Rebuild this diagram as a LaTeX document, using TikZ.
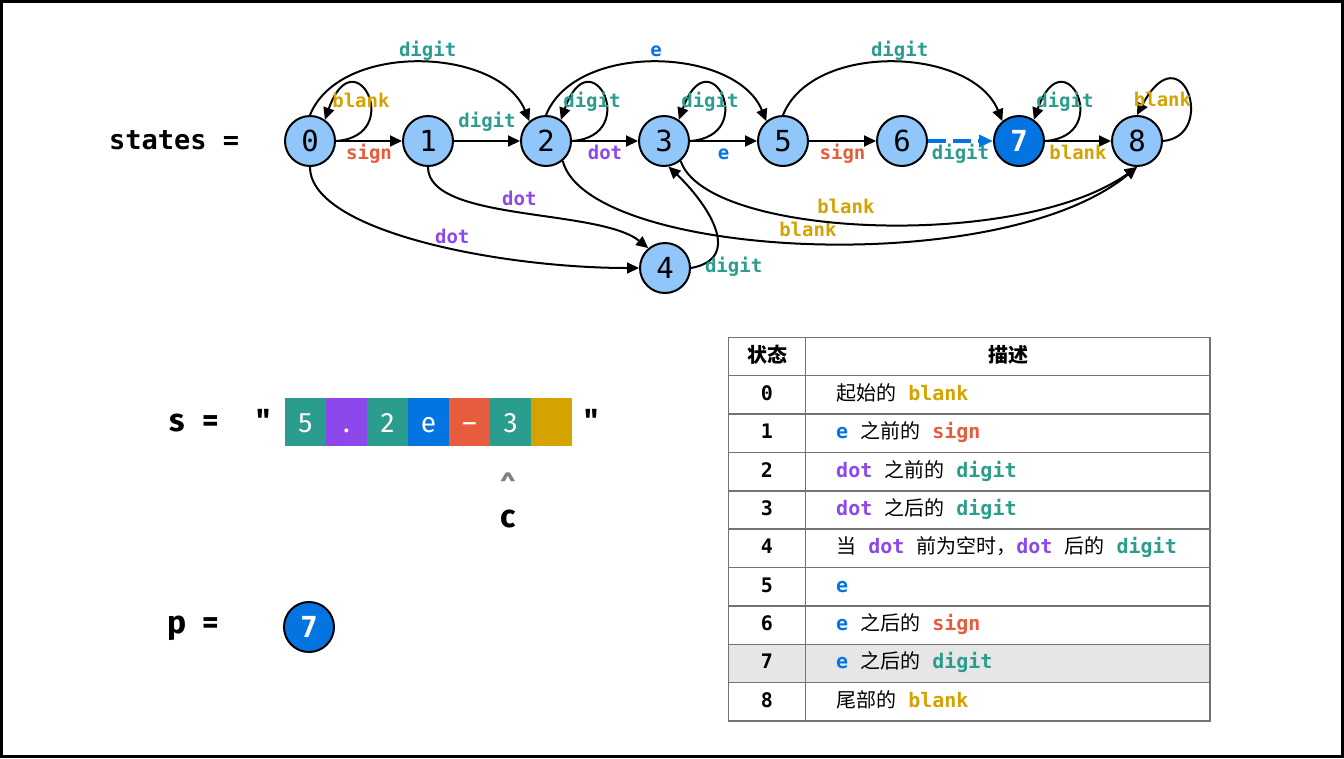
\documentclass[tikz,border=0pt]{standalone}
\usepackage{fontspec}
\setmainfont{Fira Sans}
\setmonofont{DejaVu Sans Mono}
\newfontfamily\cjk{Noto Sans CJK SC}
\usetikzlibrary{arrows.meta}

\definecolor{nodeblue}{RGB}{144,198,250}
\definecolor{darkblue}{RGB}{4,116,226}
\definecolor{cteal}{RGB}{42,157,143}
\definecolor{cpurple}{RGB}{140,72,235}
\definecolor{corange}{RGB}{230,92,60}
\definecolor{cyellow}{RGB}{212,163,0}
\definecolor{rowgray}{RGB}{230,230,230}
\definecolor{linegray}{RGB}{115,115,115}

\newcommand\zh[1]{{\cjk\mdseries #1}}
\newcommand\kwDigit{\textcolor{cteal}{digit}}
\newcommand\kwDot{\textcolor{cpurple}{dot}}
\newcommand\kwSign{\textcolor{corange}{sign}}
\newcommand\kwBlank{\textcolor{cyellow}{blank}}
\newcommand\kwE{\textcolor{darkblue}{e}}

\tikzset{
  statenode/.style={circle, draw, line width=2pt, fill=nodeblue, minimum size=50pt, inner sep=0pt,
    font=\fontsize{29}{29}\selectfont\ttfamily},
  curnode/.style={statenode, fill=darkblue, text=white, font=\fontsize{29}{29}\selectfont\ttfamily\bfseries},
  trans/.style={->, line width=2pt},
  lab/.style={inner sep=0pt, font=\fontsize{19}{19}\selectfont\ttfamily\bfseries},
  labdown/.style={lab, anchor=base, yshift=-18pt},
  labup/.style={lab, anchor=base, yshift=14pt},
  labon/.style={lab, anchor=base},
  charbox/.style={minimum width=41pt, minimum height=48pt, inner sep=0pt, text=white,
    text height=20pt, text depth=0pt, font=\fontsize{28}{28}\selectfont},
  bigtxt/.style={inner sep=0pt, font=\fontsize{32}{32}\selectfont\bfseries},
  cell/.style={inner sep=0pt, text height=15pt, text depth=4pt, font=\fontsize{20}{20}\selectfont\ttfamily\bfseries},
  tableline/.style={draw=linegray, line width=1.5pt},
}

\begin{document}
\begin{tikzpicture}[x=1pt, y=-1pt, >={Triangle[length=12pt,width=11pt]}]
    \useasboundingbox (0,0) rectangle (1344,758);
    \draw[line width=3pt] (1.5,1.5) rectangle (1342.5,756.5);

    \node[anchor=west, inner sep=0pt, font=\fontsize{27}{27}\selectfont\ttfamily\bfseries] (statelbl) at (109,140) {states =};
    \foreach \n/\x in {0/310, 1/428, 2/546, 3/664, 5/783, 6/902, 8/1137}
        \node[statenode] (n\n) at (\x,141) {\n};
    \node[curnode] (n7) at (1019,141) {7};
    \node[statenode] (n4) at (665,268) {4};

    \draw[trans] (n0) -- node[labdown] {\kwSign} (n1);
    \draw[trans] (n1) -- node[labup] {\kwDigit} (n2);
    \draw[trans] (n2) -- node[labdown] {\kwDot} (n3);
    \draw[trans] (n3) -- node[labdown] {\kwE} (n5);
    \draw[trans] (n5) -- node[labdown] {\kwSign} (n6);
    \draw[->, >={Triangle[length=14pt,width=12pt]}, darkblue, line width=4.5pt, dash pattern=on 18pt off 7pt]
        (n6) -- node[labdown] {\kwDigit} (n7);
    \draw[trans] (n7) -- node[labdown] {\kwBlank} (n8);

    \draw[trans] (n0.east) .. controls +(70,-5) and +(30,-85) .. node[labon, xshift=-7pt, yshift=-11pt] {\kwBlank} (n0.55);
    \foreach \n in {2,3,7}
        \draw[trans] (n\n.east) .. controls +(70,-5) and +(30,-85) .. node[labon, xshift=-12pt, yshift=-11pt] {\kwDigit} (n\n.55);
    \draw[trans] (n8.east) .. controls +(55,-5) and +(45,-85) .. node[labon, xshift=-25pt, yshift=-12pt] {\kwBlank} (n8.north);

    \draw[trans] (n0.north) .. controls +(30,-74) and +(-30,-74) .. node[labon, xshift=8pt, yshift=6pt] {\kwDigit} (n2.130);
    \draw[trans] (n2.north) .. controls +(30,-74) and +(-30,-74) .. node[labon, yshift=6pt] {\kwE} (n5.130);
    \draw[trans] (n5.north) .. controls +(30,-74) and +(-30,-74) .. node[labon, xshift=7pt, yshift=6pt] {\kwDigit} (n7.130);

    \draw[trans] (n0.south) .. controls +(0,64) and +(-140,0) .. node[labon, pos=.575, yshift=5pt] {\kwDot} (n4.west);
    \draw[trans] (n1.south) .. controls +(0,55) and +(-50,-40) .. node[labon, yshift=8pt] {\kwDot} (n4.130);
    \draw[trans] (n2.-50) .. controls +(25,97) and +(-137,114) .. node[labon, yshift=7pt] {\kwBlank} (n8.south);
    \draw[trans] (n3.-50) .. controls +(25,77) and +(-117,84) .. node[labon, pos=.45, yshift=10pt] {\kwBlank} (n8.south);
    \draw[trans] (n4.east) .. controls +(55,-10) and +(36,34) .. node[pos=0, lab, anchor=base west, xshift=13pt, yshift=-4pt] {\kwDigit} (n3.-80);

    \node[bigtxt, anchor=base] (slbl) at (177,431) {s};
    \node[bigtxt, anchor=base] (seq) at (211,431) {=};
    \node[bigtxt, anchor=base] (qopen) at (264,431) {\textquotedbl};
    \foreach \ch/\col [count=\k from 0] in {5/cteal, ./cpurple, 2/cteal, e/darkblue, –/corange, 3/cteal, {}/cyellow}
        \node[charbox, fill=\col] (c\k) at (305.5+41*\k,422) {\ch};
    \node[bigtxt, anchor=base] (qclose) at (592,431) {\textquotedbl};
    \node[inner sep=0pt, text=gray, font=\fontsize{28}{28}\selectfont\bfseries] (caret) at (508,485) {\textasciicircum};
    \node[bigtxt, anchor=base] (ptr) at (508,527) {c};

    \node[bigtxt, anchor=base] (plbl) at (177,633) {p};
    \node[bigtxt, anchor=base] (peq) at (211,633) {=};
    \node[curnode] (pnode) at (309,627) {7};

    \fill[rowgray] (728.5,644.3) rectangle (1210,682.7);
    \foreach \k in {1,...,9}
        \draw[tableline] (728.5,337.3+38.37*\k) -- (1210,337.3+38.37*\k);
    \draw[tableline] (805.3,337.3) -- (805.3,721);
    \draw[tableline] (728.5,337.3) rectangle (1210,721);
    \node[cell, font=\fontsize{20}{20}\selectfont\cjk\bfseries] (hstate) at (767,356.5) {状态};
    \node[cell, font=\fontsize{20}{20}\selectfont\cjk\bfseries] (hdesc) at (1008,356.5) {描述};
    \foreach \i/\desc in {0/{\zh{起始的} \kwBlank}, 1/{\kwE{} \zh{之前的} \kwSign}, 2/{\kwDot{} \zh{之前的} \kwDigit},
        3/{\kwDot{} \zh{之后的} \kwDigit}, 4/{\zh{当} \kwDot{} \zh{前为空时，}\kwDot{} \zh{后的} \kwDigit},
        5/{\kwE}, 6/{\kwE{} \zh{之后的} \kwSign}, 7/{\kwE{} \zh{之后的} \kwDigit}, 8/{\zh{尾部的} \kwBlank}} {
        \node[cell] (r\i) at (767,394.9+38.37*\i) {\i};
        \node[cell, anchor=west] (d\i) at (836,394.9+38.37*\i) {\desc};
    }
\end{tikzpicture}
\end{document}
